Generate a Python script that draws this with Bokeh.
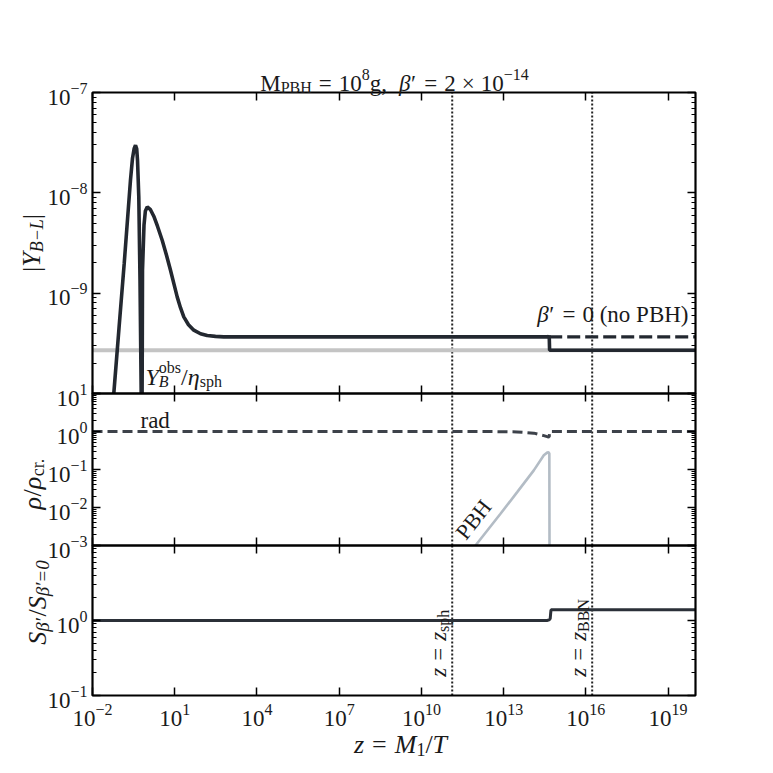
import math
from bokeh.plotting import figure
from bokeh.models import (Range1d, FixedTicker, LogAxis, LogScale, Label, BoxAnnotation,
                          CustomJSTickFormatter)
from bokeh.embed import file_html
from bokeh.resources import INLINE

FONT = "Liberation Serif"
TXT = "#1a1a1a"
NAN = float("nan")

# ---------------- data ----------------
# top panel: |Y_{B-L}| vs z = M1/T
z_ybl = [0.0598, 0.0927, 0.1436, 0.243, 0.288, 0.33, 0.371, 0.41, 0.439, 0.489,
         0.541, 0.598, NAN, 0.645, 0.655, 0.667, 0.757, 0.85, 0.991, 1.306,
         1.722, 2.35, 3.49, 5.01, 7.01, 9.40, 12.3, 16.2, 21.4, 31.8,
         49.6, 87.1, 153, 307, 617, 1e4, 4.4e14, 4.6e14, 4.75e14, 1e20]
y_ybl = [1e-10, 4.48e-10, 1.98e-9, 1.34e-8, 2.21e-8, 2.75e-8, 2.98e-8, 2.75e-8, 2.11e-8, 9.04e-9,
         1.35e-9, 1e-10, NAN, 1e-10, 3e-10, 1.69e-9, 4.76e-9, 6.6e-9, 7.24e-9, 6.79e-9,
         5.85e-9, 4.65e-9, 3.37e-9, 2.39e-9, 1.69e-9, 1.23e-9, 9.18e-10, 7.16e-10, 5.8e-10, 4.85e-10,
         4.28e-10, 3.94e-10, 3.78e-10, 3.71e-10, 3.67e-10, 3.67e-10, 3.67e-10, 3.78e-10, 2.7e-10, 2.7e-10]
z_nopbh = [4.6e14, 1e20]
y_nopbh = [3.67e-10, 3.67e-10]
Y_OBS = 2.7e-10

# middle panel: rho / rho_cr
z_rad = [1e-2, 1e12, 1e13, 3.1e13, 1.26e14, 2.92e14, 3.88e14, 4.6e14, 4.75e14, 1e20]
rho_rad = [1.0, 1.0, 0.99, 0.975, 0.905, 0.78, 0.73, 0.72, 1.0, 1.0]
z_pbh = [9.4e11, 7.67e12, 3.12e13, 1.26e14, 2.92e14, 3.88e14, 4.4e14, 4.65e14, 4.72e14]
rho_pbh = [1e-3, 6.84e-3, 0.0254, 0.0948, 0.236, 0.278, 0.282, 0.262, 1e-3]

# bottom panel: entropy ratio
z_s = [1e-2, 3.8e14, 4.6e14, 5.0e14, 5.2e14, 5.35e14, 1e20]
s_ratio = [1.0, 1.0, 1.02, 1.06, 1.25, 1.39, 1.39]

Z_SPH = 1.33e11
Z_BBN = 1.70e16

x_tick_exp = [-2, 1, 4, 7, 10, 13, 16, 19]
top_tick_exp = [-10, -9, -8, -7]
mid_tick_exp = [-3, -2, -1, 0, 1]
bot_tick_exp = [-1, 0, 1]

# ---------------- layout (pixels) ----------------
CANVAS = 772
PX_L, PX_R = 92, 695
PY_T, PY_12, PY_23, PY_B = 92, 393, 545, 695
XMIN, XMAX = 1e-2, 1e20
BASE_FIX = 5  # baseline correction for rendered text


def x_range_ext():
    lo, hi = math.log10(XMIN), math.log10(XMAX)
    ppd = (PX_R - PX_L) / (hi - lo)
    return Range1d(10 ** (lo - PX_L / ppd), 10 ** (hi + (CANVAS - PX_R) / ppd))


def y_range_ext(lo_e, hi_e, pt, pb):
    ppd = (pb - pt) / (hi_e - lo_e)
    return Range1d(10 ** (lo_e - (CANVAS - pb) / ppd), 10 ** (hi_e + pt / ppd))


# ---------------- text helpers ----------------
W_R = {'0': .5, '1': .5, '2': .5, '3': .5, '4': .5, '5': .5, '6': .5, '7': .5, '8': .5, '9': .5,
       '−': .564, '=': .564, '×': .564, 'M': .889, 'P': .556, 'B': .667, 'H': .722, 'N': .722,
       'g': .5, ',': .25, 'n': .5, 'o': .5, '(': .333, ')': .333, ' ': .25, 'r': .333, 'a': .444,
       'd': .5, 'c': .444, '.': .25, 's': .389, 'p': .5, 'h': .5, 'b': .5, '/': .278, '|': .2,
       '′': .275}
W_I = {'z': .389, 'Y': .556, 'B': .611, 'L': .556, 'S': .5, 'M': .833, 'T': .556, 'β': .52,
       'ρ': .5, 'η': .5, '−': .675, '=': .675, '′': .275, '0': .5}


def tw(s, size, italic):
    tab = W_I if italic else W_R
    return sum(tab.get(c, W_R.get(c, 0.5)) for c in s) * size


def runs_width(runs):
    t = 0.0
    for r in runs:
        if r[0] == "gap":
            t += r[1]
        elif r[4]:
            t += tw(r[0], r[1], r[2])
    return t


def place(fig, runs, x, y, xo, yo, angle=0.0, yr="default", color=TXT):
    cum = 0.0
    for r in runs:
        if r[0] == "gap":
            cum += r[1]
            continue
        text, size, italic, shift, adv = r
        if angle == 0.0:
            dx, dy = xo + cum, yo + shift + BASE_FIX
        else:
            dx, dy = xo - shift - BASE_FIX, yo + cum
        fig.add_layout(Label(x=x, y=y, x_offset=dx, y_offset=dy, text=text, angle=angle,
                             y_range_name=yr,
                             text_font=FONT, text_font_size=f"{size}px",
                             text_font_style="italic" if italic else "normal",
                             text_align="left", text_baseline="alphabetic",
                             text_color=color))
        if adv:
            cum += tw(text, size, italic)


def exp_str(e):
    return ("−" + str(-e)) if e < 0 else str(e)


def tick_runs(e):
    return [("10", 23, False, 0, True), (exp_str(e), 16, False, 9, True)]


def ytick_label(fig, e, yr):
    runs = tick_runs(e)
    place(fig, runs, XMIN, 10.0 ** e, -5 - runs_width(runs), -9.5, yr=yr)


# ---------------- figure ----------------
p = figure(width=CANVAS, height=CANVAS, x_axis_type="log", y_axis_type="log",
           x_axis_location=None, y_axis_location=None,
           x_range=x_range_ext(), y_range=y_range_ext(-10, -7, PY_T, PY_12),
           min_border=0, min_border_left=0, min_border_right=0,
           min_border_top=0, min_border_bottom=0,
           output_backend="svg", toolbar_location=None,
           background_fill_color="white", border_fill_color="white")
p.outline_line_color = None
p.grid.visible = False
p.extra_y_ranges = {"mid": y_range_ext(-3, 1, PY_12, PY_23),
                    "bot": y_range_ext(-1, 1, PY_23, PY_B)}
p.extra_y_scales = {"mid": LogScale(), "bot": LogScale()}

XT = [10.0 ** e for e in x_tick_exp]


def panel_frame(name, ylo, yhi, y_exps):
    yt = [10.0 ** e for e in y_exps]
    ym = [k * 10.0 ** e for e in y_exps[:-1] for k in range(2, 10)]
    for side, loc, ticks, minors in (("below", ylo, XT, []), ("above", yhi, XT, []),
                                     ("left", XMIN, yt, ym), ("right", XMAX, yt, ym)):
        ax = LogAxis(y_range_name=name, fixed_location=loc)
        ax.ticker = FixedTicker(ticks=ticks, minor_ticks=minors)
        ax.formatter = CustomJSTickFormatter(code="return ''")
        ax.axis_line_color = None
        ax.major_tick_in = 8
        ax.major_tick_out = 0
        ax.minor_tick_in = 4
        ax.minor_tick_out = 0
        ax.major_tick_line_color = "black"
        ax.minor_tick_line_color = "black"
        ax.major_tick_line_width = 1.5
        ax.minor_tick_line_width = 1.2
        p.add_layout(ax, side)
    p.segment(x0=[Z_SPH, Z_BBN], y0=[ylo, ylo], x1=[Z_SPH, Z_BBN], y1=[yhi, yhi],
              y_range_name=name, line_color="#222222", line_width=2, line_dash="2 2")
    p.add_layout(BoxAnnotation(left=XMIN, right=XMAX, bottom=ylo, top=yhi, y_range_name=name,
                               fill_color=None, fill_alpha=0, line_color="black",
                               line_alpha=1.0, line_width=2.2))


# ---- top panel ----
panel_frame("default", 1e-10, 1e-7, top_tick_exp)
p.line([XMIN, XMAX], [Y_OBS, Y_OBS], line_color="#c4c4c4", line_width=4)
p.line(z_nopbh, y_nopbh, line_color="#232830", line_width=3.2, line_dash="13 5")
p.line(z_ybl, y_ybl, line_color="#232830", line_width=3.6)

for e in [-9, -8, -7]:
    ytick_label(p, e, "default")

title_runs = [("M", 23, False, 0, True), ("PBH", 16, False, -4, True), ("gap", 7),
              ("=", 23, False, 0, True), ("gap", 7), ("10", 23, False, 0, True),
              ("8", 16, False, 9, True), ("g,", 23, False, 0, True), ("gap", 12),
              ("β", 23, True, 0, True), ("′", 23, False, 0, True), ("gap", 7),
              ("=", 23, False, 0, True), ("gap", 7), ("2", 23, False, 0, True), ("gap", 6),
              ("×", 23, False, 0, True), ("gap", 6), ("10", 23, False, 0, True),
              ("−14", 16, False, 9, True)]
place(p, title_runs, XMIN, 1e-7, 302 - runs_width(title_runs) / 2, 4)

ylab1 = [("|", 26, False, 0, True), ("Y", 26, True, 0, True), ("B−L", 18, True, -5, True),
         ("|", 26, False, 0, True)]
place(p, ylab1, XMIN, 10 ** -8.5, -56, -runs_width(ylab1) / 2, angle=math.pi / 2)

obs_runs = [("Y", 24, True, 0, True), ("B", 16, True, -5, False), ("obs", 16, False, 9, True),
            ("/", 24, False, 0, True), ("η", 24, True, 0, True), ("sph", 16, False, -5, True)]
place(p, obs_runs, XMIN, 1e-10, 53, 12)

nopbh_runs = [("β", 23, True, 0, True), ("′", 23, False, 0, True), ("gap", 7),
              ("=", 23, False, 0, True), ("gap", 7), ("0 (no PBH)", 23, False, 0, True)]
place(p, nopbh_runs, XMAX, 3.67e-10, -7 - runs_width(nopbh_runs), 17)

# ---- middle panel ----
panel_frame("mid", 1e-3, 10, mid_tick_exp)
p.line(z_pbh, rho_pbh, y_range_name="mid", line_color="#b3bcc5", line_width=2.6)
p.line(z_rad, rho_rad, y_range_name="mid", line_color="#3d424a", line_width=3,
       line_dash="10 5")
for e in mid_tick_exp:
    ytick_label(p, e, "mid")

place(p, [("rad", 23, False, 0, True)], XMIN, 1.0, 48, 6, yr="mid")
p.add_layout(Label(x=7.94e11, y=4.84e-3, text="PBH", angle=0.9, y_range_name="mid",
                   text_font=FONT, text_font_size="22px", text_align="center",
                   text_baseline="middle", text_color=TXT))
ylab2 = [("ρ", 26, True, 0, True), ("/", 26, False, 0, True), ("ρ", 26, True, 0, True),
         ("cr.", 18, False, -5, True)]
place(p, ylab2, XMIN, 10 ** -1.37, -55, -runs_width(ylab2) / 2, angle=math.pi / 2, yr="mid")

# ---- bottom panel ----
panel_frame("bot", 0.1, 10, bot_tick_exp)
p.line(z_s, s_ratio, y_range_name="bot", line_color="#2b3038", line_width=3)
for e in [0, -1]:
    ytick_label(p, e, "bot")
for e in x_tick_exp:
    runs = tick_runs(e)
    place(p, runs, 10.0 ** e, 0.1, -runs_width(runs) / 2, -28, yr="bot")

xlab = [("z", 26, True, 0, True), ("gap", 8), ("=", 26, False, 0, True), ("gap", 8),
        ("M", 26, True, 0, True), ("1", 18, False, -5, True), ("/", 26, False, 0, True),
        ("T", 26, True, 0, True)]
place(p, xlab, XMIN, 0.1, 308 - runs_width(xlab) / 2, -54, yr="bot")

ylab3 = [("S", 26, True, 0, True), ("β′", 19, True, -5, True), ("/", 26, False, 0, True),
         ("S", 26, True, 0, True), ("β′=0", 19, True, -5, True)]
place(p, ylab3, XMIN, 10 ** 0.25, -50, -runs_width(ylab3) / 2, angle=math.pi / 2, yr="bot")

sph_runs = [("z", 23, True, 0, True), ("gap", 7), ("=", 23, False, 0, True), ("gap", 7),
            ("z", 23, True, 0, True), ("sph", 16, False, -5, True)]
place(p, sph_runs, Z_SPH, 10 ** -0.75, -9, 0, angle=math.pi / 2, yr="bot")
bbn_runs = [("z", 23, True, 0, True), ("gap", 7), ("=", 23, False, 0, True), ("gap", 7),
            ("z", 23, True, 0, True), ("BBN", 16, False, -5, True)]
place(p, bbn_runs, Z_BBN, 10 ** -0.75, -9, 0, angle=math.pi / 2, yr="bot")

open("out.html", "w").write(file_html(p, INLINE))
